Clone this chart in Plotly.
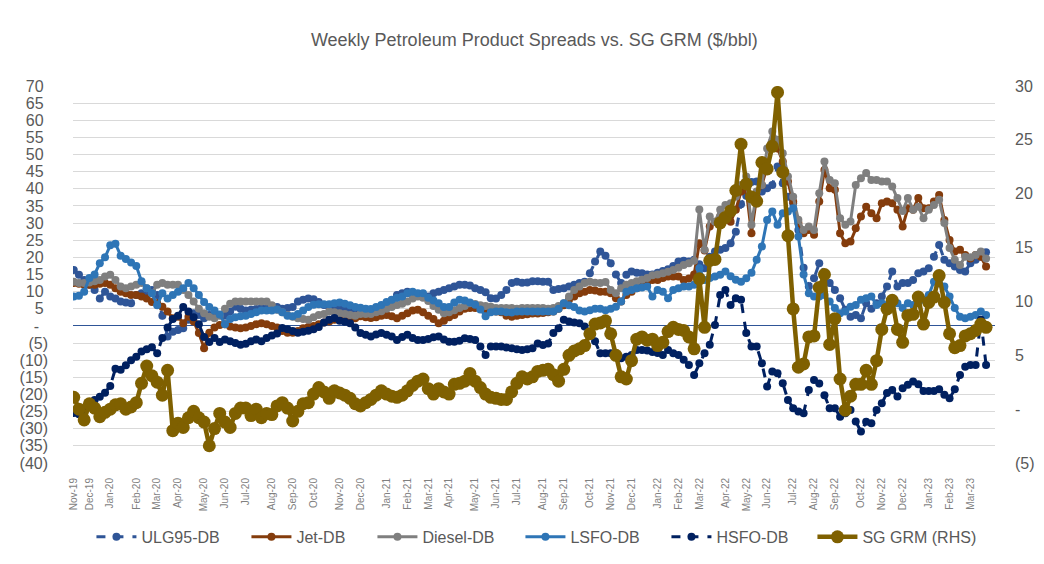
import pandas as pd
import plotly.graph_objects as go

start_date = "2019-11-14"
n_weeks = 176
dates = pd.date_range(start_date, periods=n_weeks, freq="7D")

ulg95 = [16.3, 14.9, 13.4, 12.0, 10.5, 8.0, 10.0, 8.6, 8.0, 7.1,
 6.8, 6.6, 9.0, 9.5, 10.0, 10.5, 9.0, 3.0, -3.1, -1.7,
 -1.2, -0.7, 1.8, 3.7, 3.2, 2.2, 3.2, 3.7, 3.2, 3.0,
 4.2, 5.6, 5.0, 4.5, 4.7, 4.9, 5.2, 5.0, 5.2, 5.5,
 5.0, 5.2, 5.5, 7.1, 7.6, 8.0, 7.8, 7.0, 6.1, 5.6,
 5.2, 5.0, 4.8, 4.5, 4.2, 4.0, 3.0, 3.5, 4.0, 5.2,
 6.5, 7.5, 9.0, 9.5, 10.0, 9.5, 8.8, 8.6, 8.6, 9.5,
 10.0, 10.5, 11.0, 11.5, 12.0, 12.0, 11.8, 11.0, 10.5, 9.8,
 8.1, 8.0, 9.0, 10.5, 12.5, 12.9, 12.6, 12.7, 13.0, 13.0,
 12.9, 12.9, 10.5, 10.8, 11.0, 11.5, 12.0, 12.5, 12.9, 15.4,
 18.8, 21.7, 20.5, 18.3, 15.0, 12.5, 14.9, 15.9, 15.5, 15.4,
 15.0, 15.0, 15.5, 16.0, 16.5, 17.5, 18.8, 19.0, 18.8, 19.3,
 18.0, 16.8, 20.2, 21.7, 22.2, 22.7, 24.1, 27.5, 35.5, 38.0,
 42.0, 42.1, 39.2, 40.2, 41.1, 46.5, 41.6, 37.7, 35.8, 28.0,
 17.0, 11.5, 13.9, 18.3, 15.4, 12.5, 10.5, 8.1, 4.7, 2.7,
 3.2, 2.2, 6.6, 5.0, 6.6, 8.6, 11.5, 15.9, 11.5, 12.5,
 12.5, 13.4, 15.4, 15.9, 16.8, 20.2, 23.6, 19.3, 18.3, 17.3,
 16.3, 15.9, 18.3, 19.3, 20.2, 21.5]

jet = [12.5, 12.3, 12.0, 12.0, 12.0, 12.3, 12.5, 12.0, 11.0, 10.0,
 9.5, 9.0, 9.0, 8.6, 8.0, 7.0, 6.6, 5.6, 4.2, 2.2,
 2.7, 0.8, 2.7, 1.3, -2.1, -6.5, -2.0, -0.5, 0.3, 0.5,
 -0.2, -0.5, -0.7, -0.5, 0.0, 0.5, 0.8, 0.5, 0.0, -0.5,
 -1.5, -2.0, -2.0, -1.5, -0.7, -0.3, 0.0, 0.5, 1.0, 1.3,
 1.8, 1.8, 1.8, 2.0, 2.2, 2.8, 2.5, 2.3, 2.5, 3.0,
 3.2, 2.8, 2.2, 3.0, 3.7, 4.5, 4.7, 4.0, 3.0, 2.0,
 0.8, 1.5, 2.5, 3.2, 4.2, 5.0, 5.2, 5.2, 5.0, 4.8,
 4.5, 4.2, 4.0, 3.0, 2.7, 3.0, 3.2, 3.4, 3.6, 3.6,
 3.8, 4.0, 4.2, 5.0, 6.0, 7.6, 8.6, 9.5, 10.0, 10.5,
 10.3, 10.0, 10.0, 9.5, 8.1, 7.1, 9.0, 10.0, 11.0, 12.0,
 12.5, 13.4, 13.4, 14.0, 14.4, 14.4, 14.4, 13.4, 13.8, 15.0,
 24.1, 22.0, 29.0, 30.4, 31.9, 31.0, 30.4, 33.9, 39.2, 39.7,
 27.0, 37.7, 41.1, 46.5, 53.8, 51.8, 48.0, 42.1, 36.3, 30.0,
 27.0, 28.0, 26.6, 36.3, 45.5, 40.2, 39.7, 27.0, 24.1, 24.6,
 28.5, 31.9, 34.8, 32.9, 31.4, 35.8, 36.3, 35.8, 33.9, 29.0,
 34.3, 33.9, 37.3, 34.3, 34.3, 36.3, 38.2, 30.9, 25.1, 21.7,
 22.2, 20.7, 19.7, 20.7, 20.2, 17.3]

diesel = [12.9, 12.5, 12.5, 12.7, 13.0, 13.4, 14.4, 14.9, 13.4, 11.5,
 11.0, 11.5, 12.0, 12.5, 11.0, 9.5, 12.0, 12.5, 12.0, 12.0,
 12.0, 10.5, 9.0, 7.1, 5.0, 3.7, 2.7, 2.2, 3.0, 5.0,
 6.5, 7.1, 7.1, 7.1, 7.1, 7.1, 7.1, 7.1, 6.0, 4.7,
 4.0, 3.2, 2.7, 2.2, 2.0, 1.8, 2.5, 3.2, 3.5, 4.2,
 4.0, 3.7, 3.5, 3.2, 3.0, 3.5, 3.5, 3.5, 4.0, 4.3,
 5.0, 5.5, 6.1, 6.5, 7.1, 8.0, 8.6, 8.2, 7.3, 5.8,
 4.7, 3.7, 4.0, 4.6, 5.2, 5.8, 6.6, 6.4, 6.0, 5.8,
 5.6, 5.2, 5.2, 5.2, 5.2, 5.0, 5.2, 5.2, 5.2, 5.2,
 5.2, 5.0, 5.2, 5.8, 6.6, 8.6, 10.5, 11.5, 12.5, 12.9,
 12.6, 12.5, 12.8, 10.5, 9.5, 11.0, 12.0, 12.5, 13.0, 13.5,
 14.0, 14.8, 15.0, 15.4, 15.8, 16.3, 17.0, 17.8, 18.3, 19.0,
 34.0, 22.2, 31.9, 30.4, 33.9, 35.3, 35.8, 37.7, 41.1, 43.6,
 29.5, 39.2, 41.1, 51.8, 56.7, 54.3, 50.4, 43.6, 37.7, 31.0,
 28.0, 29.0, 28.0, 38.7, 48.0, 42.6, 41.6, 31.4, 29.5, 30.5,
 41.1, 43.1, 44.6, 42.6, 42.6, 42.1, 42.1, 40.7, 37.3, 33.5,
 37.3, 33.9, 34.8, 31.4, 33.9, 35.3, 36.8, 30.0, 22.7, 19.3,
 17.8, 20.2, 20.0, 20.7, 21.7, 19.7]

lsfo = [8.6, 8.8, 10.0, 14.0, 15.0, 18.3, 20.0, 23.5, 24.0, 20.5,
 19.5, 18.5, 17.5, 13.0, 11.0, 9.5, 6.0, 9.5, 8.0, 9.0,
 10.0, 11.0, 12.5, 11.0, 9.0, 7.0, 5.5, 4.5, 3.3, 0.5,
 2.0, 2.5, 2.8, 3.0, 3.5, 4.0, 4.5, 4.5, 4.5, 4.8,
 4.0, 3.0, 2.8, 3.5, 4.5, 5.5, 6.2, 6.3, 6.3, 6.3,
 6.6, 6.8, 6.5, 6.0, 5.5, 5.3, 5.0, 4.9, 5.5, 6.1,
 7.0, 7.6, 8.2, 8.6, 9.5, 10.0, 9.5, 9.5, 8.2, 7.4,
 6.6, 5.5, 5.5, 6.8, 7.6, 7.4, 6.8, 6.2, 4.8, 2.8,
 4.0, 4.2, 4.2, 4.0, 3.9, 4.2, 4.2, 4.2, 4.2, 4.2,
 4.2, 4.2, 4.2, 5.0, 6.6, 6.0, 5.5, 4.5, 4.2, 4.6,
 5.0, 5.0, 4.6, 5.0, 5.6, 7.1, 10.0, 10.5, 11.0, 11.2,
 11.5, 8.6, 10.5, 10.0, 8.1, 10.5, 11.0, 11.5, 11.5, 12.0,
 16.8, 13.4, 14.0, 14.4, 14.9, 15.9, 14.5, 13.5, 12.9, 13.9,
 15.5, 19.3, 23.2, 30.9, 33.4, 29.5, 32.9, 33.4, 34.3, 26.1,
 15.0, 9.5, 8.6, 8.6, 9.0, 7.1, 5.2, 3.7, 4.2, 5.6,
 6.1, 7.6, 8.1, 8.6, 6.1, 6.6, 6.1, 7.1, 6.6, 5.2,
 6.6, 6.1, 7.0, 7.6, 9.0, 12.9, 12.4, 11.5, 8.6, 5.2,
 2.7, 2.2, 2.7, 3.2, 4.2, 3.2]

hsfo = [-25.4, -25.8, -24.5, -23.0, -21.6, -20.7, -19.5, -17.5, -12.5, -12.8,
 -11.5, -10.0, -9.0, -7.5, -6.8, -6.2, -8.0, -3.5, -0.5, 2.0,
 3.0, 5.5, 4.2, 2.5, 0.5, -3.2, -4.7, -3.5, -4.7, -4.0,
 -4.5, -5.0, -5.5, -5.2, -4.5, -4.0, -4.5, -3.5, -2.8, -2.2,
 -0.6, -1.0, -1.5, -2.0, -1.7, -1.4, -1.0, -0.3, 1.0, 1.8,
 2.3, 1.5, 1.2, 0.8, -0.5, -2.1, -2.6, -3.1, -2.5, -2.1,
 -2.6, -3.1, -4.1, -3.2, -2.6, -3.5, -4.1, -4.1, -3.8, -3.3,
 -3.1, -4.0, -4.6, -4.6, -4.3, -3.6, -3.8, -4.1, -6.0, -8.5,
 -6.0, -6.0, -6.0, -6.3, -6.5, -6.8, -7.0, -6.8, -6.5, -5.1,
 -5.6, -5.1, -2.1, -0.7, 1.8, 1.3, 1.0, 0.8, -0.2, -1.7,
 -4.5, -8.0, -8.0, -8.0, -9.0, -9.4, -9.0, -8.5, -7.0, -7.0,
 -7.2, -7.6, -7.9, -8.5, -7.0, -8.0, -8.5, -9.9, -11.4, -14.3,
 -10.9, -8.0, -5.5, 0.3, 9.0, 10.5, 6.1, 8.1, 7.6, -2.1,
 -6.0, -6.0, -10.9, -17.7, -13.3, -13.8, -16.7, -21.6, -24.0, -25.0,
 -25.5, -18.7, -15.8, -16.8, -20.2, -24.0, -24.0, -26.5, -25.5, -24.5,
 -27.9, -30.8, -28.0, -28.4, -24.5, -22.6, -19.6, -18.7, -20.6, -18.2,
 -17.2, -16.2, -17.0, -19.0, -19.0, -19.0, -18.5, -20.1, -21.1, -18.5,
 -14.3, -11.9, -11.4, -11.4, 1.8, -11.4]

sg_grm = [1.1, 0.0, -1.0, 0.5, 0.1, -0.7, -0.3, 0.0, 0.4, 0.5,
 0.0, 0.2, 0.6, 2.4, 4.0, 3.1, 2.5, 1.3, 3.6, -2.0,
 -1.3, -1.7, -0.8, -0.2, -0.8, -1.2, -3.4, -1.8, -0.4, -1.2,
 -1.7, -0.4, 0.1, 0.1, -0.6, 0.0, -0.8, -0.4, -0.5, 0.3,
 0.6, 0.1, -1.1, -0.2, 0.5, 0.6, 1.4, 2.0, 1.6, 1.0,
 1.7, 1.5, 1.3, 1.0, 0.5, 0.3, 0.6, 0.9, 1.3, 1.7,
 1.4, 1.2, 1.1, 1.3, 1.7, 2.2, 2.6, 2.8, 1.9, 1.4,
 1.9, 1.6, 1.4, 2.3, 2.4, 2.6, 3.3, 2.6, 2.0, 1.4,
 1.1, 1.0, 0.9, 0.9, 1.6, 2.4, 3.0, 2.8, 3.0, 3.5,
 3.6, 3.7, 3.2, 2.6, 3.7, 5.0, 5.4, 5.6, 5.9, 7.0,
 7.9, 8.0, 8.2, 7.0, 5.0, 3.0, 2.8, 4.5, 6.5, 6.7,
 6.4, 6.5, 5.9, 6.2, 7.2, 7.6, 7.4, 7.3, 6.7, 5.6,
 12.1, 7.6, 13.8, 13.9, 17.3, 17.8, 18.4, 20.3, 24.6, 20.9,
 19.7, 19.3, 22.9, 22.3, 24.4, 29.4, 22.0, 16.1, 9.3, 3.9,
 4.2, 6.7, 6.8, 11.3, 12.5, 6.0, 8.4, 2.8, -0.1, 1.2,
 2.3, 2.3, 3.6, 2.3, 4.5, 7.4, 9.3, 10.1, 7.4, 6.2,
 8.7, 8.8, 10.4, 7.9, 9.9, 10.4, 12.4, 9.9, 7.0, 5.7,
 5.9, 6.8, 7.0, 7.3, 7.9, 7.6]

left_ticks = list(range(-40, 75, 5))
right_ticks = list(range(-5, 35, 5))

NB = "\u00a0"


def fmt_left(v):
    # accounting style: positives padded to line up with ")"
    if v == 0:
        return "-" + NB * 2
    return f"({abs(v)})" if v < 0 else str(v) + NB


def fmt_right(v):
    if v == 0:
        return "-"
    return f"({abs(v)})" if v < 0 else str(v)


# first weekly date of each month used as the axis label positions
tick_dates = []
seen = set()
for d in dates:
    key = (d.year, d.month)
    if key not in seen:
        seen.add(key)
        tick_dates.append(d)

TXT = "#595959"
series = [
    ("ULG95-DB", ulg95, "#2F5597", "dash", 100),
    ("Jet-DB", jet, "#843C0C", "solid", 71),
    ("Diesel-DB", diesel, "#7F7F7F", "solid", 93),
    ("LSFO-DB", lsfo, "#2E75B6", "solid", 91),
    ("HSFO-DB", hsfo, "#002060", "dash", 91),
]

fig = go.Figure()
for name, vals, col, dash, lw in series:
    fig.add_trace(go.Scatter(
        x=dates, y=vals, name=name, mode="lines+markers",
        line=dict(color=col, width=3, dash=dash),
        marker=dict(color=col, size=8, symbol="circle"),
        legendwidth=lw, yaxis="y"))

fig.add_trace(go.Scatter(
    x=dates, y=sg_grm, name="SG GRM (RHS)", mode="lines+markers",
    line=dict(color="#7F6000", width=4.5),
    marker=dict(color="#7F6000", size=13),
    legendwidth=115, yaxis="y2"))

# page body has an 8px margin: keep the figure inside the body box
W, H = 1028, 548
font = "Liberation Sans, Arial, sans-serif"
fig.update_layout(
    width=W, height=H,
    paper_bgcolor="white", plot_bgcolor="white",
    margin=dict(l=65, r=41, t=78, b=93, autoexpand=False),
    font=dict(family=font, color=TXT),
    title=dict(text="Weekly Petroleum Product Spreads vs. SG GRM ($/bbl)",
               x=0.512, xanchor="center", y=1 - 32 / H, yanchor="middle",
               font=dict(size=18, color=TXT, family=font)),
    showlegend=True,
    legend=dict(orientation="h", x=0.02, xanchor="left", y=-0.196, yanchor="middle",
                font=dict(size=16, color=TXT), itemwidth=40, traceorder="normal"),
    xaxis=dict(type="date", range=["2019-11-13", "2023-04-04"],
               tickvals=tick_dates, tickformat="%b-%y", tickangle=-90,
               tickfont=dict(size=10, color="#7F7F7F"), ticklabelstandoff=12,
               showgrid=False, zeroline=False, showline=False, ticks=""),
    yaxis=dict(range=[-40, 70], tickvals=left_ticks, ticktext=[fmt_left(v) for v in left_ticks],
               showgrid=True, gridcolor="#D9D9D9", gridwidth=1,
               zeroline=True, zerolinecolor="#2F5597", zerolinewidth=1,
               tickfont=dict(size=16, color=TXT), ticklabelstandoff=24,
               showline=False, ticks=""),
    yaxis2=dict(range=[-5, 30], tickvals=right_ticks, ticktext=[fmt_right(v) for v in right_ticks],
                overlaying="y", side="right", showgrid=False, zeroline=False,
                tickfont=dict(size=16, color=TXT), ticklabelstandoff=19,
                showline=False, ticks=""),
)

fig.write_html("out.html")
